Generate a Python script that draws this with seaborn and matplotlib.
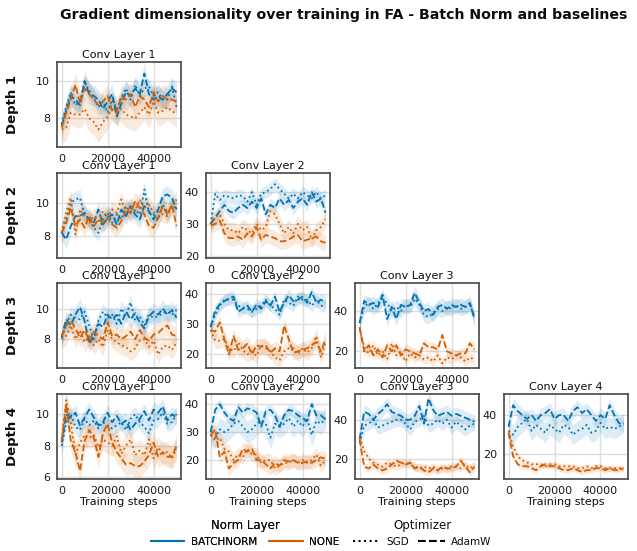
import matplotlib
matplotlib.use("Agg")
import matplotlib.pyplot as plt
import matplotlib.lines as mlines
from matplotlib.ticker import MultipleLocator
import numpy as np
import seaborn as sns

STEPS = list(range(0, 50001, 2000))

# colours / labels
NORM_COLORS = {"BATCHNORM": "#0173b2", "NONE": "#d55e00"}
OPT_STYLES = {"SGD": ":", "AdamW": "--"}

# ---- Depth 1 ----
D1L1_BN_SGD = [7.7, 8.6, 9.4, 8.7, 8.9, 9.9, 9.5, 9.1, 8.6, 8.9, 8.3, 9.0, 8.5, 9.1, 9.6, 9.0, 9.8, 9.2, 9.6, 9.7, 9.2, 9.4, 9.0, 9.0, 9.7, 8.6]
D1L1_BN_ADAM = [7.6, 8.4, 9.2, 9.0, 8.7, 10.0, 9.3, 9.2, 9.0, 8.5, 8.9, 9.3, 8.1, 8.8, 9.4, 9.2, 9.6, 9.3, 10.4, 9.3, 9.0, 9.2, 9.0, 9.3, 9.6, 9.4]
D1L1_NO_SGD = [7.4, 7.5, 8.3, 8.2, 8.2, 8.5, 8.0, 7.8, 7.4, 7.8, 8.1, 8.6, 8.3, 8.5, 8.2, 8.1, 8.0, 8.3, 8.6, 8.2, 8.9, 8.3, 8.4, 8.6, 8.4, 8.2]
D1L1_NO_ADAM = [7.5, 8.3, 9.0, 9.8, 8.8, 9.6, 9.3, 9.0, 8.7, 8.9, 9.2, 8.4, 8.3, 9.2, 9.0, 9.3, 8.6, 9.2, 9.0, 8.6, 9.4, 8.9, 9.2, 9.0, 9.0, 8.9]

# ---- Depth 2 ----
D2L1_BN_SGD = [8.2, 9.0, 10.0, 10.2, 10.3, 9.3, 9.0, 8.5, 8.2, 9.0, 9.4, 8.8, 9.3, 9.0, 9.8, 9.4, 9.6, 9.3, 10.8, 9.4, 9.3, 9.0, 9.9, 9.4, 9.8, 9.7]
D2L1_BN_ADAM = [8.2, 7.8, 8.6, 9.2, 9.2, 9.4, 9.0, 8.8, 9.6, 8.7, 9.1, 9.3, 8.7, 9.6, 9.2, 9.8, 9.3, 9.0, 9.8, 9.5, 9.0, 9.6, 10.4, 10.5, 10.3, 9.6]
D2L1_NO_SGD = [8.2, 9.5, 10.3, 8.1, 9.6, 9.2, 8.8, 9.2, 8.9, 9.5, 9.1, 9.6, 9.4, 10.2, 9.4, 9.8, 9.5, 10.2, 9.7, 9.9, 9.4, 9.5, 9.3, 9.2, 9.8, 10.2]
D2L1_NO_ADAM = [8.2, 8.8, 9.7, 8.6, 9.0, 8.5, 9.2, 8.6, 9.0, 8.8, 9.1, 8.7, 8.5, 8.9, 9.6, 9.4, 10.1, 9.7, 9.3, 8.6, 8.5, 9.1, 9.8, 9.3, 9.9, 8.6]

D2L2_BN_SGD = [30, 39.5, 37.5, 39, 38.5, 38, 39, 38.8, 37, 40, 36, 39.5, 40, 41, 42.5, 41, 39.5, 38, 39.5, 38, 40, 39, 38, 40, 38, 39]
D2L2_BN_ADAM = [30, 32, 34, 36, 34, 33.5, 35, 36, 35, 37, 35, 38, 33, 36, 35, 38, 36, 37.5, 35, 37, 38, 36, 40, 37, 38, 33.5]
D2L2_NO_SGD = [30, 32, 33, 30, 28, 28, 27, 29, 28, 27, 30, 28, 29, 34, 33, 30, 27, 29, 27, 30, 28, 29, 25, 28, 29, 31.5]
D2L2_NO_ADAM = [29.5, 30, 31, 27, 25.5, 25.5, 26, 25, 27, 26, 29, 25, 26.5, 26, 25.5, 24.5, 24.5, 25, 26, 26.5, 24.5, 25, 25.5, 26, 24.5, 24]

# ---- Depth 3 ----
D3L1_BN_SGD = [8.1, 9.0, 9.6, 9.4, 9.3, 9.8, 8.9, 8.0, 9.2, 9.8, 9.4, 9.6, 9.0, 10.0, 9.5, 10.4, 9.2, 9.5, 8.9, 9.6, 9.4, 9.5, 9.7, 9.8, 9.6, 9.9]
D3L1_BN_ADAM = [8.1, 9.3, 8.9, 9.6, 10.1, 9.2, 7.7, 8.2, 9.0, 8.8, 9.6, 9.3, 9.6, 9.0, 9.8, 9.3, 9.7, 9.1, 8.7, 9.5, 9.8, 9.6, 10.0, 9.6, 9.9, 9.4]
D3L1_NO_SGD = [8.0, 8.2, 8.9, 8.0, 8.6, 7.8, 8.2, 7.6, 8.0, 7.5, 8.6, 8.0, 7.8, 7.6, 7.5, 7.2, 7.4, 7.9, 8.0, 7.5, 7.9, 7.0, 7.5, 7.6, 7.3, 7.8]
D3L1_NO_ADAM = [8.2, 8.9, 9.2, 8.7, 8.1, 8.6, 7.9, 8.5, 8.2, 8.0, 9.1, 8.2, 8.3, 8.0, 8.2, 8.5, 8.0, 8.6, 8.1, 7.9, 8.3, 8.4, 8.7, 8.9, 8.3, 8.2]

D3L2_BN_SGD = [29, 33, 36, 38, 38, 38, 36, 35.5, 35, 34, 35, 36, 38, 36, 35, 33, 38, 37, 36, 39, 38, 38, 36, 38, 36, 36]
D3L2_BN_ADAM = [29, 34.5, 36.5, 37.5, 38.5, 39, 34, 35, 36, 34, 36.5, 35, 37.5, 36, 39, 34, 37, 39.5, 37.5, 38, 39, 37, 40.5, 37, 38, 37]
D3L2_NO_SGD = [28, 24.5, 24.5, 25, 22, 21, 24, 21.5, 20, 21, 19.5, 23, 22, 21, 19, 18, 21, 22, 22, 20, 22, 20.5, 22, 26, 19, 24]
D3L2_NO_ADAM = [28, 27.5, 30.5, 25, 20, 26, 21.5, 22, 23.5, 20, 23, 22.5, 23, 20.5, 22, 21, 29.5, 25, 20.5, 21, 21.5, 22, 23, 24, 21, 25]

D3L3_BN_SGD = [34, 42, 44, 41, 44, 46, 44, 40, 42, 40, 43, 42, 46, 43, 38, 37, 39, 41, 40, 42, 41, 43, 41, 42, 43, 37]
D3L3_BN_ADAM = [34, 45, 43, 44, 42, 48, 36, 42, 36, 43, 42, 43, 49, 44, 40, 41, 38, 42, 43, 41, 43, 42, 43, 42, 44, 36]
D3L3_NO_SGD = [31, 22, 19, 23, 18, 20, 16, 24, 18, 20, 15, 19, 17, 18, 16, 17, 15, 18, 14, 17, 16, 18, 17, 15, 17, 16]
D3L3_NO_ADAM = [32, 20, 23, 18, 21, 17, 23, 20, 23, 18, 21, 20, 19, 18, 24, 22, 22, 21, 28, 20, 19, 18, 19, 19, 24, 21]

# ---- Depth 4 ----
D4L1_BN_SGD = [8.0, 9.5, 10.0, 9.2, 9.0, 9.7, 9.3, 9.6, 9.1, 9.5, 9.2, 9.1, 9.3, 9.5, 9.0, 9.7, 10.0, 9.5, 9.2, 8.8, 9.6, 9.7, 10.1, 9.4, 9.5, 10.0]
D4L1_BN_ADAM = [8.2, 10.0, 9.8, 10.1, 9.3, 9.8, 10.3, 9.8, 9.3, 9.5, 10.1, 9.5, 9.9, 9.4, 9.6, 9.0, 9.4, 9.7, 10.2, 9.6, 10.3, 10.1, 10.5, 9.6, 10.0, 9.8]
D4L1_NO_SGD = [8.4, 10.9, 9.5, 7.4, 8.2, 8.7, 8.5, 8.7, 7.9, 8.4, 8.2, 8.0, 8.6, 7.5, 8.0, 8.4, 7.4, 7.7, 7.4, 8.4, 7.2, 7.9, 7.5, 7.6, 7.2, 7.8]
D4L1_NO_ADAM = [8.3, 10.6, 8.3, 7.6, 6.4, 8.3, 9.0, 8.5, 7.3, 8.8, 9.4, 8.2, 7.6, 7.2, 6.8, 6.9, 6.7, 6.7, 7.0, 7.4, 8.2, 7.3, 7.6, 7.3, 7.3, 8.0]

D4L2_BN_SGD = [29, 28, 31, 30, 31, 33, 34, 32, 30, 31, 33, 34, 33, 28, 33, 32, 33, 35, 32, 34, 32, 35, 29, 34, 33, 35]
D4L2_BN_ADAM = [30, 38, 40, 37, 35, 34, 39, 37, 38.5, 38, 37, 32, 37.5, 38, 36, 32, 36, 38, 37.5, 36, 35, 34, 40, 36, 36, 34.5]
D4L2_NO_SGD = [29, 27, 28, 24, 23, 20, 22, 21, 24, 22, 22, 19, 20, 20, 17, 18, 19, 19, 20, 19, 20, 19, 20, 22, 18, 20]
D4L2_NO_ADAM = [29, 31, 21, 23, 17, 19, 20, 24, 23, 24, 20, 20, 18.5, 17, 19, 18, 20, 19.5, 20, 19, 19, 19.5, 19, 20, 21, 20.5]

D4L3_BN_SGD = [28, 37, 38, 40, 36, 37, 38, 39, 40, 40, 38, 35, 39, 40, 42, 37, 38, 40, 38, 40, 36, 39, 37, 35, 37, 38]
D4L3_BN_ADAM = [30, 44, 43, 40, 43, 45, 48, 44, 43, 42, 40, 40, 42, 47, 38, 51, 45, 42, 43, 44, 42, 43, 42, 41, 40, 39]
D4L3_NO_SGD = [31, 24, 20, 18, 17, 16, 18, 17, 16, 17, 18, 17, 16, 15, 16, 15, 16, 14, 15, 15, 16, 16, 15, 17, 15, 17]
D4L3_NO_ADAM = [30, 16, 15, 17, 15, 14, 15, 17, 19, 18, 17, 18, 15, 16, 14, 13, 15, 14, 16, 15, 15, 16, 19, 16, 13, 16]

D4L4_BN_SGD = [32, 30, 34, 36, 38, 32, 35, 33, 31, 35, 33, 31, 35, 34, 30, 32, 33, 35, 31, 32, 36, 33, 34, 33, 34, 36]
D4L4_BN_ADAM = [34, 45, 42, 40, 38, 40, 37, 40, 41, 43, 38, 40, 40, 37, 42, 44, 41, 43, 40, 37, 40, 38, 45, 40, 36, 35]
D4L4_NO_SGD = [32, 24, 19, 17, 16, 15, 15, 15, 14, 15, 15, 14, 14, 14, 14, 13, 13, 14, 13, 14, 14, 13, 13, 13, 13, 13]
D4L4_NO_ADAM = [31, 19, 15, 14, 14, 13, 12, 14, 15, 14, 14, 13, 12, 12, 13, 12, 11, 12, 12, 13, 13, 12, 13, 12, 12, 13]

# rough half-width of the shaded band, per series (bn_sgd, bn_adam, no_sgd, no_adam)
SPREADS = {
    (1, 1): (0.45, 0.55, 0.7, 0.6),
    (2, 1): (0.5, 0.5, 0.5, 0.55),
    (2, 2): (2.0, 2.0, 2.5, 2.5),
    (3, 1): (0.5, 0.55, 0.6, 0.6),
    (3, 2): (2.0, 2.0, 2.5, 2.5),
    (3, 3): (3.5, 3.5, 2.5, 2.5),
    (4, 1): (0.5, 0.5, 0.7, 0.7),
    (4, 2): (4.0, 2.0, 2.5, 2.5),
    (4, 3): (3.5, 3.5, 2.0, 2.0),
    (4, 4): (5.0, 3.5, 1.5, 1.5),
}

# y-range and y-tick step of each panel
YLIMS = {
    (1, 1): (6.45, 11.0),
    (2, 1): (6.7, 11.8),
    (2, 2): (19.3, 46.1),
    (3, 1): (6.1, 11.65),
    (3, 2): (15.4, 43.4),
    (3, 3): (11.6, 53.7),
    (4, 1): (5.9, 11.3),
    (4, 2): (13.3, 43.7),
    (4, 3): (9.7, 53.3),
    (4, 4): (7.6, 50.8),
}
YSTEP = {(1, 1): 2, (2, 1): 2, (2, 2): 10, (3, 1): 2, (3, 2): 10, (3, 3): 20,
         (4, 1): 2, (4, 2): 10, (4, 3): 20, (4, 4): 20}

PANELS = {
    (1, 1): (D1L1_BN_SGD, D1L1_BN_ADAM, D1L1_NO_SGD, D1L1_NO_ADAM),
    (2, 1): (D2L1_BN_SGD, D2L1_BN_ADAM, D2L1_NO_SGD, D2L1_NO_ADAM),
    (2, 2): (D2L2_BN_SGD, D2L2_BN_ADAM, D2L2_NO_SGD, D2L2_NO_ADAM),
    (3, 1): (D3L1_BN_SGD, D3L1_BN_ADAM, D3L1_NO_SGD, D3L1_NO_ADAM),
    (3, 2): (D3L2_BN_SGD, D3L2_BN_ADAM, D3L2_NO_SGD, D3L2_NO_ADAM),
    (3, 3): (D3L3_BN_SGD, D3L3_BN_ADAM, D3L3_NO_SGD, D3L3_NO_ADAM),
    (4, 1): (D4L1_BN_SGD, D4L1_BN_ADAM, D4L1_NO_SGD, D4L1_NO_ADAM),
    (4, 2): (D4L2_BN_SGD, D4L2_BN_ADAM, D4L2_NO_SGD, D4L2_NO_ADAM),
    (4, 3): (D4L3_BN_SGD, D4L3_BN_ADAM, D4L3_NO_SGD, D4L3_NO_ADAM),
    (4, 4): (D4L4_BN_SGD, D4L4_BN_ADAM, D4L4_NO_SGD, D4L4_NO_ADAM),
}
SERIES = [("BATCHNORM", "SGD"), ("BATCHNORM", "AdamW"), ("NONE", "SGD"), ("NONE", "AdamW")]

sns.set_theme(style="whitegrid", rc={
    "axes.edgecolor": "0.3",
    "axes.linewidth": 1.25,
    "grid.color": "0.87",
    "xtick.major.size": 3.5,
    "ytick.major.size": 3.5,
    "xtick.color": "0.1",
    "ytick.color": "0.1",
    "text.color": "0.05",
    "axes.labelcolor": "0.05",
    "xtick.labelsize": 8,
    "ytick.labelsize": 8,
})
plt.rcParams["font.family"] = ["DejaVu Sans"]

fig, axes = plt.subplots(4, 4, figsize=(6.37, 5.51), dpi=100)
fig.subplots_adjust(left=0.0895, right=0.986, top=0.887, bottom=0.131,
                    wspace=0.2, hspace=0.3)

steps = np.array(STEPS)
for r in range(4):
    for c in range(4):
        ax = axes[r, c]
        key = (r + 1, c + 1)
        if key not in PANELS:
            ax.axis("off")
            continue
        for (norm, opt), vals, sp in zip(SERIES, PANELS[key], SPREADS[key]):
            y = np.array(vals, dtype=float)
            col = NORM_COLORS[norm]
            ax.fill_between(steps, y - sp, y + sp, color=col, alpha=0.13, linewidth=0)
            sns.lineplot(x=steps, y=y, ax=ax, color=col, linestyle=OPT_STYLES[opt],
                         linewidth=1.3)
        ax.set_title(f"Conv Layer {c + 1}", fontsize=8, pad=3)
        ax.set_xticks([0, 20000, 40000])
        ax.set_xlim(-2000, 52000)
        ax.set_ylim(*YLIMS[key])
        ax.yaxis.set_major_locator(MultipleLocator(YSTEP[key]))
        ax.tick_params(pad=1.5)
        ax.set_xlabel("Training steps" if r == 3 else "", fontsize=8, labelpad=1)
        if c == 0:
            ax.set_ylabel(f"Depth {r + 1}", fontsize=9.5, fontweight="bold", labelpad=12)
        else:
            ax.set_ylabel("")

fig.suptitle("Gradient dimensionality over training in FA - Batch Norm and baselines",
             fontsize=10.2, fontweight="bold", x=0.54, y=0.985)

norm_handles = [mlines.Line2D([], [], color=NORM_COLORS[n], linewidth=1.5, label=n)
                for n in NORM_COLORS]
opt_handles = [mlines.Line2D([], [], color="black", linestyle=OPT_STYLES[o], linewidth=1.5, label=o)
               for o in OPT_STYLES]
leg1 = fig.legend(handles=norm_handles, title="Norm Layer", ncol=2, loc="lower center",
                  bbox_to_anchor=(0.385, -0.01), frameon=False, fontsize=7.5,
                  title_fontsize=8.5, handlelength=3.2, columnspacing=1.2, handletextpad=0.6)
fig.add_artist(leg1)
fig.legend(handles=opt_handles, title="Optimizer", ncol=2, loc="lower center",
           bbox_to_anchor=(0.663, -0.01), frameon=False, fontsize=7.5,
           title_fontsize=8.5, handlelength=2.6, columnspacing=0.8, handletextpad=0.6)

fig.savefig("out.png", dpi=100)
